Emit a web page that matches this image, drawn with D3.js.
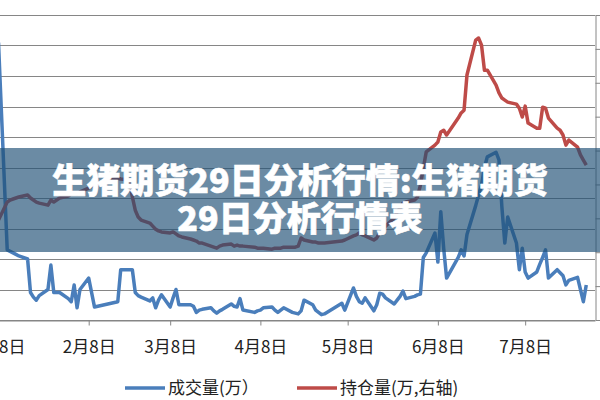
<!DOCTYPE html>
<html><head><meta charset="utf-8">
<script src="https://cdn.jsdelivr.net/npm/d3@7"></script>
<style>body{margin:0;background:#fff}svg{display:block}</style>
</head><body><svg id="c" width="600" height="400"></svg>
<script>
const year = 2021;
const tradingDays = [
 "01-08","01-11","01-12","01-13","01-14","01-15","01-18","01-19","01-20","01-21","01-22","01-25","01-26","01-27","01-28","01-29",
 "02-01","02-02","02-03","02-04","02-05","02-08","02-09","02-10","02-18","02-19","02-22","02-23","02-24","02-25","02-26",
 "03-01","03-02","03-03","03-04","03-05","03-08","03-09","03-10","03-11","03-12","03-15","03-16","03-17","03-18","03-19","03-22","03-23","03-24","03-25","03-26","03-29","03-30","03-31",
 "04-01","04-02","04-06","04-07","04-08","04-09","04-12","04-13","04-14","04-15","04-16","04-19","04-20","04-21","04-22","04-23","04-26","04-27","04-28","04-29","04-30",
 "05-06","05-07","05-10","05-11","05-12","05-13","05-14","05-17","05-18","05-19","05-20","05-21","05-24","05-25","05-26","05-27","05-28","05-31",
 "06-01","06-02","06-03","06-04","06-07","06-08","06-09","06-10","06-11","06-15","06-16","06-17","06-18","06-21","06-22","06-23","06-24","06-25","06-28","06-29","06-30",
 "07-01","07-02","07-05","07-06","07-07","07-08","07-09","07-12","07-13","07-14","07-15","07-16","07-19","07-20","07-21","07-22","07-23","07-26","07-27","07-28","07-29"
];
// 成交量 (万), left axis
const volume = [
 18.2,4.6,4.5,4.4,4.3,4.2,4.0,1.8,1.5,1.3,1.6,2.0,3.6,1.8,1.8,1.8,
 1.4,1.2,2.3,0.8,2.0,2.75,1.8,0.85,1.2,3.3,3.3,3.3,1.8,1.6,1.5,
 1.25,1.45,0.8,1.3,1.65,0.85,1.45,2.0,1.0,1.0,1.0,0.9,0.5,0.65,0.7,0.8,0.6,0.45,0.6,0.7,1.05,0.9,0.85,
 1.4,0.65,0.5,0.6,0.65,0.8,0.85,0.65,0.5,0.65,0.8,0.5,0.45,0.4,0.6,1.3,1.0,0.65,0.5,0.35,0.4,
 1.1,0.65,2.1,1.55,1.2,1.1,1.45,0.6,1.0,1.75,1.7,1.45,1.05,1.3,1.55,1.9,1.4,1.55,
 1.65,1.7,4.1,4.4,5.7,3.8,7.1,4.7,2.75,4.1,4.6,4.2,5.6,7.5,8.2,8.85,10.0,10.7,11.0,10.5,7.4,
 5.05,6.75,5.05,3.3,4.7,3.15,2.75,3.15,3.65,4.1,4.6,2.75,3.3,3.1,2.9,2.3,2.6,2.8,2.0,1.2,2.3
];
// 持仓量 (万), right axis
const openInterest = [
 2.95,3.48,3.54,3.57,3.60,3.63,3.69,3.60,3.54,3.48,3.45,3.39,3.54,3.48,3.54,3.60,
 3.66,3.72,3.75,3.72,3.78,3.89,3.95,4.01,4.19,4.16,4.13,3.63,3.24,3.04,2.95,
 2.86,2.77,2.68,2.63,2.60,2.57,2.60,2.54,2.48,2.45,2.39,2.36,2.33,2.27,2.27,2.18,2.15,2.12,2.18,2.21,2.24,2.18,2.21,
 2.18,2.18,2.15,2.12,2.12,2.12,2.09,2.12,2.12,2.12,2.15,2.15,2.15,2.18,2.42,2.36,2.30,2.30,2.27,2.27,2.27,
 2.33,2.36,2.48,2.51,2.57,2.51,2.48,2.36,2.42,2.57,2.65,2.77,3.01,3.19,3.30,3.45,3.48,3.54,
 3.63,3.98,4.48,4.96,5.16,5.25,5.55,5.60,5.46,5.96,6.11,6.19,7.23,8.26,8.32,8.11,7.37,7.37,6.93,6.70,6.55,
 6.49,6.43,6.37,6.25,5.99,6.31,5.81,5.66,5.66,6.28,6.25,5.96,5.66,5.60,5.46,5.16,5.31,5.10,4.87,4.72,4.57
];
const xTickDates = ["01-08","02-08","03-08","04-08","05-08","06-08","07-08"];
const xTickLabels = ["1月8日","2月8日","3月8日","4月8日","5月8日","6月8日","7月8日"];
const xDomain = ["01-08","08-01"];
const leftTicks = [0,2,4,6,8,10,12,14,16,18,20];
const rightTicks = [0,1,2,3,4,5,6,7,8,9];
const seriesNames = ["成交量(万）","持仓量(万,右轴)"];
const titleLines = ["生猪期货29日分析行情:生猪期货","29日分析行情表"];

const parse = d3.timeParse("%Y-%m-%d");
const toDate = s => parse(year + "-" + s);
const dates = tradingDays.map(toDate);

const svg = d3.select("#c");
const plotTop = 15, plotBottom = 320, plotLeft = -1.5, plotRight = 595;
const x = d3.scaleTime().domain(xDomain.map(toDate)).range([plotLeft, plotRight]);
const yL = d3.scaleLinear().domain([0, 20]).range([plotBottom, plotTop]);
const yR = d3.scaleLinear().domain([0, 9]).range([plotBottom, plotTop]);
const gridColor = "#868686";
const blue = "#4a7ebb", red = "#be4b48";

// gridlines
svg.append("g").selectAll("line").data(leftTicks).join("line")
  .attr("x1", 0).attr("x2", plotRight)
  .attr("y1", d => Math.round(yL(d)) + 0.5).attr("y2", d => Math.round(yL(d)) + 0.5)
  .attr("stroke", gridColor).attr("stroke-width", 1);

// x axis
const xAxis = d3.axisBottom(x).tickValues(xTickDates.map(toDate))
  .tickFormat((d, i) => xTickLabels[i]).tickSize(5).tickSizeOuter(0);
const gx = svg.append("g").attr("transform", `translate(0,${Math.round(plotBottom)+0.5})`).call(xAxis);
gx.select(".domain").attr("stroke", gridColor);
gx.selectAll(".tick line").attr("stroke", gridColor);
gx.selectAll(".tick text").attr("fill", "#222").attr("dy", 0).attr("y", 32)
  .style("font-family", "'Noto Sans CJK SC', 'Noto Sans', sans-serif").style("font-size", "17px");

// right axis
const yAxisR = d3.axisRight(yR).tickValues(rightTicks).tickSize(5).tickFormat("").tickSizeOuter(0);
const gr = svg.append("g").attr("transform", `translate(${plotRight + 0.5},0)`).call(yAxisR);
gr.selectAll("path,line").attr("stroke", gridColor);

// series
const lineL = d3.line().x((d, i) => x(dates[i])).y(d => yL(d));
const lineR = d3.line().x((d, i) => x(dates[i])).y(d => yR(d));
svg.append("path").datum(volume).attr("d", lineL).attr("fill", "none")
  .attr("stroke", blue).attr("stroke-width", 3.5).attr("stroke-linejoin", "round");
svg.append("path").datum(openInterest).attr("d", lineR).attr("fill", "none")
  .attr("stroke", red).attr("stroke-width", 3.5).attr("stroke-linejoin", "round");

// legend
const legend = svg.append("g").style("font-family", "'Noto Sans CJK SC', sans-serif").style("font-size", "17px");
const legendItems = [{x: 125, c: blue, t: seriesNames[0]}, {x: 297, c: red, t: seriesNames[1]}];
legendItems.forEach(it => {
  legend.append("line").attr("x1", it.x).attr("x2", it.x + 40).attr("y1", 388).attr("y2", 388)
    .attr("stroke", it.c).attr("stroke-width", 3.5);
  legend.append("text").attr("x", it.x + 43).attr("y", 394).attr("fill", "#222").text(it.t);
});

// banner overlay
svg.append("rect").attr("x", 0).attr("y", 148).attr("width", 600).attr("height", 104)
  .attr("fill", "rgb(31,79,117)").attr("fill-opacity", 0.66);
const tg = svg.append("g").style("font-family", "'Noto Sans CJK SC', sans-serif")
  .style("font-size", "34px").style("font-weight", 900).attr("fill", "#fff")
  .attr("stroke", "#fff").attr("stroke-width", 0.6).attr("text-anchor", "middle");
tg.append("text").attr("x", 300).attr("y", 193).text(titleLines[0]);
tg.append("text").attr("x", 300).attr("y", 231).text(titleLines[1]);
</script></body></html>
